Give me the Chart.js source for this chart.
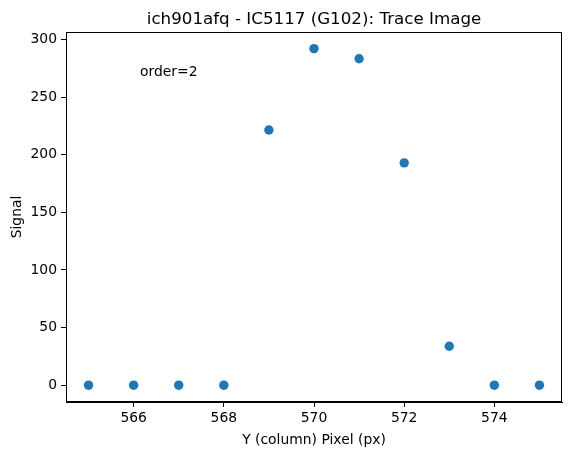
<!DOCTYPE html>
<html>
<head>
<meta charset="utf-8">
<script src="https://cdn.jsdelivr.net/npm/chart.js@4"></script>
<style>
  body { margin: 0; background: #fff; }
  #wrap { width: 571px; height: 455px; }
</style>
</head>
<body>
<div id="wrap"><canvas id="trace-chart" width="571" height="455"></canvas></div>
<script>
// data
const pixels = [565, 566, 567, 568, 569, 570, 571, 572, 573, 574, 575];
const signal = [0, 0, 0, 0, 221.5, 292.2, 283.4, 193, 33.8, 0, 0];
const xTicks = [566, 568, 570, 572, 574];
const yTicks = [0, 50, 100, 150, 200, 250, 300];

const titleText = 'ich901afq - IC5117 (G102): Trace Image';
const noteText = 'order=2';
const font = "'DejaVu Sans', sans-serif";

// frame, title and the order note
const extras = {
  id: 'extras',
  afterDraw(chart) {
    const { ctx, chartArea: a } = chart;
    ctx.save();
    ctx.strokeStyle = '#000';
    ctx.lineWidth = 1;
    ctx.strokeRect(a.left + 0.5, a.top + 0.5, a.right - a.left - 1, a.bottom - a.top - 1);
    ctx.fillStyle = '#000';
    ctx.textAlign = 'center';
    ctx.textBaseline = 'alphabetic';
    ctx.font = '16.7px ' + font;
    ctx.fillText(titleText, (a.left + a.right) / 2, a.top - 8);
    ctx.textAlign = 'left';
    ctx.textBaseline = 'middle';
    ctx.font = '13.9px ' + font;
    ctx.fillText(noteText, a.left + 74, a.top + 40);
    ctx.restore();
  }
};

const traceChart = new Chart(document.getElementById('trace-chart'), {
  type: 'scatter',
  data: {
    datasets: [{
      data: pixels.map((p, i) => ({ x: p, y: signal[i] })),
      backgroundColor: '#1f77b4',
      borderWidth: 0,
      pointRadius: 4.7,
      pointHoverRadius: 4.7
    }]
  },
  options: {
    responsive: false,
    animation: false,
    devicePixelRatio: 1,
    layout: { padding: { top: 32, right: 9, left: 0, bottom: 0 } },
    plugins: { legend: { display: false }, tooltip: { enabled: false } },
    scales: {
      x: {
        type: 'linear',
        min: 564.5,
        max: 575.5,
        afterBuildTicks: s => { s.ticks = xTicks.map(v => ({ value: v })); },
        afterFit: s => { s.height = 53; },
        grid: { drawOnChartArea: false, drawTicks: true, tickLength: 5, color: '#000' },
        border: { display: true, color: '#000' },
        ticks: { color: '#000', font: { family: font, size: 13.9 }, padding: 3, maxRotation: 0 },
        title: { display: true, text: 'Y (column) Pixel (px)', color: '#000', font: { family: font, size: 13.9 }, padding: { top: 0, bottom: 6 } }
      },
      y: {
        min: -14.6,
        max: 306.6,
        afterBuildTicks: s => { s.ticks = yTicks.map(v => ({ value: v })); },
        afterFit: s => { s.width = 66; },
        grid: { drawOnChartArea: false, drawTicks: true, tickLength: 5, color: '#000' },
        border: { display: true, color: '#000' },
        ticks: { color: '#000', font: { family: font, size: 13.9 }, padding: 4 },
        title: { display: true, text: 'Signal', color: '#000', font: { family: font, size: 13.9 }, padding: { top: 9, bottom: 0 } }
      }
    }
  },
  plugins: [extras]
});
</script>
</body>
</html>
